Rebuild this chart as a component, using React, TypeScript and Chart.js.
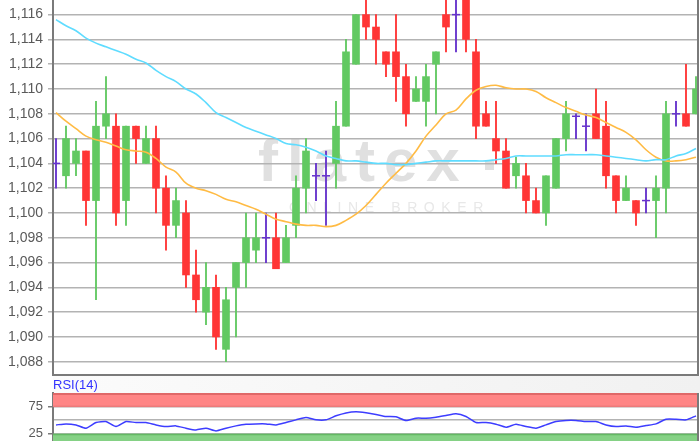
import React, { useEffect, useRef } from 'react';
import { Chart, registerables } from 'chart.js';
Chart.register(...registerables);

// ---- data ----
const OPEN = [1.104, 1.103, 1.104, 1.105, 1.101, 1.107, 1.107, 1.101, 1.107, 1.104, 1.106, 1.102, 1.099, 1.100, 1.095, 1.092, 1.094, 1.089, 1.094, 1.096, 1.097, 1.098, 1.098, 1.096, 1.099, 1.102, 1.103, 1.103, 1.104, 1.107, 1.112, 1.116, 1.115, 1.113, 1.113, 1.111, 1.109, 1.109, 1.112, 1.116, 1.116, 1.118, 1.113, 1.108, 1.106, 1.105, 1.103, 1.103, 1.101, 1.100, 1.102, 1.106, 1.1078, 1.107, 1.108, 1.107, 1.103, 1.101, 1.101, 1.101, 1.101, 1.102, 1.108, 1.108, 1.108];
const HIGH = [1.106, 1.107, 1.106, 1.105, 1.109, 1.111, 1.108, 1.107, 1.107, 1.107, 1.107, 1.103, 1.102, 1.101, 1.097, 1.096, 1.095, 1.094, 1.096, 1.100, 1.100, 1.100, 1.100, 1.099, 1.103, 1.106, 1.104, 1.105, 1.109, 1.114, 1.116, 1.118, 1.116, 1.113, 1.116, 1.112, 1.111, 1.112, 1.113, 1.118, 1.1175, 1.118, 1.114, 1.109, 1.109, 1.106, 1.1045, 1.104, 1.102, 1.103, 1.106, 1.109, 1.108, 1.108, 1.110, 1.109, 1.103, 1.103, 1.101, 1.102, 1.103, 1.109, 1.109, 1.112, 1.111];
const LOW = [1.102, 1.102, 1.103, 1.099, 1.093, 1.106, 1.099, 1.099, 1.104, 1.104, 1.100, 1.097, 1.098, 1.094, 1.092, 1.091, 1.089, 1.088, 1.090, 1.094, 1.096, 1.096, 1.0955, 1.096, 1.098, 1.100, 1.101, 1.099, 1.102, 1.107, 1.112, 1.114, 1.112, 1.111, 1.109, 1.107, 1.109, 1.107, 1.108, 1.113, 1.113, 1.113, 1.106, 1.107, 1.104, 1.102, 1.102, 1.100, 1.100, 1.099, 1.102, 1.105, 1.106, 1.105, 1.106, 1.102, 1.100, 1.101, 1.099, 1.100, 1.098, 1.100, 1.107, 1.107, 1.108];
const CLOSE = [1.104, 1.106, 1.105, 1.101, 1.107, 1.108, 1.100, 1.107, 1.106, 1.106, 1.102, 1.099, 1.101, 1.095, 1.093, 1.094, 1.090, 1.093, 1.096, 1.098, 1.098, 1.098, 1.0955, 1.098, 1.102, 1.105, 1.103, 1.103, 1.107, 1.113, 1.116, 1.115, 1.114, 1.112, 1.111, 1.108, 1.110, 1.111, 1.113, 1.115, 1.116, 1.114, 1.107, 1.107, 1.105, 1.102, 1.104, 1.101, 1.100, 1.103, 1.106, 1.108, 1.1078, 1.107, 1.106, 1.103, 1.101, 1.102, 1.100, 1.101, 1.102, 1.108, 1.108, 1.107, 1.110];
const MA_LONG = [1.1156, 1.1151, 1.1147, 1.1141, 1.1137, 1.1134, 1.1131, 1.1128, 1.1124, 1.1121, 1.1115, 1.1110, 1.1106, 1.1100, 1.1096, 1.1089, 1.1081, 1.1077, 1.1073, 1.1069, 1.1066, 1.1063, 1.1060, 1.1056, 1.1055, 1.1053, 1.1050, 1.1046, 1.1044, 1.1042, 1.1042, 1.1041, 1.1040, 1.1040, 1.1039, 1.1039, 1.1040, 1.1041, 1.1042, 1.1042, 1.1042, 1.1042, 1.1042, 1.1042, 1.1043, 1.1044, 1.1046, 1.1046, 1.1046, 1.1046, 1.1046, 1.1047, 1.1047, 1.1047, 1.1047, 1.1046, 1.1045, 1.1044, 1.1043, 1.1042, 1.1043, 1.1043, 1.1046, 1.1048, 1.1052];
const MA_SHORT = [1.1081, 1.1074, 1.1068, 1.1062, 1.1059, 1.1057, 1.1054, 1.1051, 1.1050, 1.1049, 1.1044, 1.1037, 1.1033, 1.1024, 1.1020, 1.1018, 1.1015, 1.1011, 1.1009, 1.1006, 1.1003, 1.0999, 1.0995, 1.0993, 1.0991, 1.0990, 1.0990, 1.0989, 1.0990, 1.0994, 1.0999, 1.1006, 1.1015, 1.1024, 1.1032, 1.1040, 1.1050, 1.1062, 1.1071, 1.1080, 1.1083, 1.1092, 1.1099, 1.1102, 1.1103, 1.1101, 1.1100, 1.1100, 1.1098, 1.1093, 1.1089, 1.1085, 1.1082, 1.1079, 1.1077, 1.1073, 1.1069, 1.1065, 1.1059, 1.1051, 1.1045, 1.1042, 1.1042, 1.1043, 1.1045];
const RSI = [41.3, 43.2, 41.3, 35.2, 45.7, 47.4, 38.3, 47.4, 45.7, 45.7, 41.3, 38.3, 39.5, 35.2, 32.1, 35.2, 30.2, 35.2, 39.5, 42.6, 43.2, 43.2, 41.3, 45.7, 50.6, 54.9, 50.6, 50.6, 58.0, 63.3, 65.4, 63.5, 60.5, 56.8, 56.2, 49.4, 53.7, 53.7, 55.6, 58.6, 61.7, 56.8, 45.7, 45.7, 42.6, 37.1, 42.6, 38.3, 35.2, 41.3, 47.4, 49.4, 49.4, 47.4, 47.4, 41.3, 38.3, 39.5, 37.1, 40.1, 43.2, 51.8, 51.8, 50.6, 58.0];
const Y_TICKS = [1.088, 1.09, 1.092, 1.094, 1.096, 1.098, 1.1, 1.102, 1.104, 1.106, 1.108, 1.11, 1.112, 1.114, 1.116];
const RSI_GRID = [25, 50, 75];
const RSI_LABELS = [25, 75];
const RSI_OVERBOUGHT = [75, 100];
const RSI_OVERSOLD = [0, 25];
const RSI_TITLE = 'RSI(14)';
const WATERMARK = 'flatex';
const WATERMARK_SUB = 'ONLINE BROKER';

const Y_MIN = 1.08693;
const Y_MAX = 1.11718;
const X_MIN = -0.3;
const X_MAX = 64.2;

const GREEN = '#62c962';
const RED = '#ff3535';
const PURPLE = '#6633cc';
const FONT = '"Liberation Sans", Arial, sans-serif';
const AXIS = '#7a7a7a';
const GRID = '#b3b3b3';

const IDX = OPEN.map((_, i) => i);
const colorOf = (i: number) => (CLOSE[i] > OPEN[i] ? GREEN : CLOSE[i] < OPEN[i] ? RED : PURPLE);
const isDoji = (i: number) => CLOSE[i] === OPEN[i];

const fixedWidth = (s: any) => {
  s.width = 53;
  s.paddingTop = 0;
  s.paddingBottom = 0;
};

const framePlugin = {
  id: 'frame',
  afterDatasetsDraw(chart: any) {
    const { ctx, chartArea: a } = chart;
    ctx.save();
    ctx.strokeStyle = AXIS;
    ctx.lineWidth = 2;
    ctx.beginPath();
    ctx.moveTo(a.right, a.top);
    ctx.lineTo(a.right, a.bottom);
    if (chart.options.drawBottom) {
      ctx.moveTo(a.left - 1, a.bottom);
      ctx.lineTo(a.right + 1, a.bottom);
    }
    ctx.stroke();
    ctx.restore();
  },
};

const watermarkPlugin = {
  id: 'watermark',
  beforeDraw(chart: any) {
    const { ctx } = chart;
    ctx.save();
    ctx.fillStyle = '#e0e0e0';
    ctx.font = `bold 60px ${FONT}`;
    (ctx as any).letterSpacing = '9px';
    ctx.textBaseline = 'alphabetic';
    ctx.fillText(WATERMARK, 258, 181);
    (ctx as any).letterSpacing = '0px';
    ctx.fillRect(485, 161, 9, 9);
    ctx.fillStyle = '#e8e8e8';
    ctx.font = `14px ${FONT}`;
    (ctx as any).letterSpacing = '6.6px';
    ctx.fillText(WATERMARK_SUB, 289, 212);
    ctx.restore();
  },
};

const rsiDecor = {
  id: 'rsiDecor',
  beforeDraw(chart: any) {
    const { ctx, chartArea: a } = chart;
    ctx.save();
    const g = ctx.createLinearGradient(a.left, 0, chart.width, 0);
    g.addColorStop(0, '#fbfbfb');
    g.addColorStop(1, '#f1f1f1');
    ctx.fillStyle = g;
    ctx.fillRect(a.left, 0, chart.width - a.left, a.top);
    ctx.fillStyle = '#3333ff';
    ctx.font = `13px ${FONT}`;
    ctx.textBaseline = 'top';
    ctx.fillText(RSI_TITLE, a.left, 3);
    ctx.restore();
  },
  beforeDatasetsDraw(chart: any) {
    const { ctx, chartArea: a, scales } = chart;
    const y = scales.y;
    ctx.save();
    const yTop = y.getPixelForValue(RSI_OVERBOUGHT[1]);
    const yOb = y.getPixelForValue(RSI_OVERBOUGHT[0]);
    ctx.fillStyle = '#ff8585';
    ctx.fillRect(a.left, yTop, a.right - a.left, yOb - yTop);
    ctx.fillStyle = '#e06868';
    ctx.fillRect(a.left, yTop, a.right - a.left, 2);
    ctx.fillStyle = '#ec7a7a';
    ctx.fillRect(a.left, yOb - 1, a.right - a.left, 1.5);
    const yOs = y.getPixelForValue(RSI_OVERSOLD[1]);
    const yBot = y.getPixelForValue(Math.max(RSI_OVERSOLD[0], y.min));
    ctx.fillStyle = '#85d185';
    ctx.fillRect(a.left, yOs, a.right - a.left, yBot - yOs);
    ctx.fillStyle = '#63b863';
    ctx.fillRect(a.left, yOs, a.right - a.left, 1.5);
    ctx.restore();
  },
};

export default function App() {
  const mainRef = useRef<HTMLCanvasElement | null>(null);
  const rsiRef = useRef<HTMLCanvasElement | null>(null);

  useEffect(() => {
    const bodyIdx = IDX.filter((i) => !isDoji(i));
    const dojiIdx = IDX.filter((i) => isDoji(i));
    const main = new Chart(mainRef.current as HTMLCanvasElement, {
      type: 'bar',
      data: {
        datasets: [
          {
            type: 'line',
            data: IDX.map((i) => ({ x: i, y: MA_LONG[i] })),
            borderColor: '#5fdcff',
            borderWidth: 1.6,
            pointRadius: 0,
            tension: 0.35,
            order: 0,
          } as any,
          {
            type: 'line',
            data: IDX.map((i) => ({ x: i, y: MA_SHORT[i] })),
            borderColor: '#ffbb44',
            borderWidth: 1.6,
            pointRadius: 0,
            tension: 0.35,
            order: 0,
          } as any,
          {
            type: 'line',
            data: dojiIdx.map((i) => ({ x: i, y: CLOSE[i] })),
            showLine: false,
            pointStyle: 'line',
            pointRadius: 4,
            pointBorderColor: PURPLE,
            pointBorderWidth: 1.5,
            order: 1,
            clip: 0,
          } as any,
          {
            type: 'bar',
            data: bodyIdx.map((i) => ({ x: i, y: [OPEN[i], CLOSE[i]] })),
            backgroundColor: bodyIdx.map(colorOf),
            barThickness: 7,
            grouped: false,
            order: 2,
            clip: 0,
          } as any,
          {
            type: 'bar',
            data: IDX.map((i) => ({ x: i, y: [LOW[i], HIGH[i]] })),
            backgroundColor: IDX.map(colorOf),
            barThickness: 1.2,
            grouped: false,
            order: 3,
            clip: 0,
          } as any,
        ],
      },
      options: {
        animation: false,
        responsive: false,
        maintainAspectRatio: false,
        drawBottom: true,
        layout: { autoPadding: false, padding: { top: 0, right: 2, bottom: 1, left: 0 } },
        plugins: { legend: { display: false }, tooltip: { enabled: false } },
        scales: {
          x: { type: 'linear', min: X_MIN, max: X_MAX, display: false, offset: false },
          y: {
            type: 'linear',
            min: Y_MIN,
            max: Y_MAX,
            afterFit: fixedWidth,
            afterBuildTicks: (s: any) => { s.ticks = Y_TICKS.map((v) => ({ value: v })); },
            grid: { color: GRID, lineWidth: 1.5, tickLength: 5 },
            border: { color: AXIS, width: 2 },
            ticks: {
              padding: 5,
              color: '#5a5a5a',
              font: { family: FONT, size: 14 },
              callback: (v: any) => Number(v).toFixed(3).replace('.', ','),
            },
          },
        },
      } as any,
      plugins: [watermarkPlugin, framePlugin],
    });

    const rsi = new Chart(rsiRef.current as HTMLCanvasElement, {
      type: 'line',
      data: {
        datasets: [
          {
            data: IDX.map((i) => ({ x: i, y: RSI[i] })),
            borderColor: '#3d3dff',
            borderWidth: 1.5,
            pointRadius: 0,
            tension: 0.2,
          },
        ],
      },
      options: {
        animation: false,
        responsive: false,
        maintainAspectRatio: false,
        layout: { autoPadding: false, padding: { top: 17, right: 2, bottom: 0, left: 0 } },
        plugins: { legend: { display: false }, tooltip: { enabled: false } },
        scales: {
          x: { type: 'linear', min: X_MIN, max: X_MAX, display: false },
          y: {
            type: 'linear',
            min: 11.7,
            max: 100,
            afterFit: fixedWidth,
            afterBuildTicks: (s: any) => { s.ticks = RSI_GRID.map((v) => ({ value: v })); },
            grid: {
              color: GRID,
              lineWidth: 1.5,
              tickLength: 5,
              tickColor: (c: any) => (c.tick && RSI_LABELS.includes(c.tick.value) ? AXIS : 'rgba(0,0,0,0)'),
            },
            border: { color: AXIS, width: 2 },
            ticks: {
              padding: 5,
              color: '#5a5a5a',
              font: { family: FONT, size: 13 },
              callback: (v: any) => (RSI_LABELS.includes(Number(v)) ? String(v) : ''),
            },
          },
        },
      } as any,
      plugins: [rsiDecor, framePlugin],
    });

    return () => {
      main.destroy();
      rsi.destroy();
    };
  }, []);

  return (
    <div style={{ position: 'fixed', left: 0, top: 0, width: 700, height: 441, overflow: 'hidden', background: '#ffffff' }}>
      <canvas ref={mainRef} width={700} height={376} style={{ position: 'absolute', left: 0, top: 0, width: 700, height: 376 }} />
      <canvas ref={rsiRef} width={700} height={65} style={{ position: 'absolute', left: 0, top: 376, width: 700, height: 65 }} />
    </div>
  );
}
